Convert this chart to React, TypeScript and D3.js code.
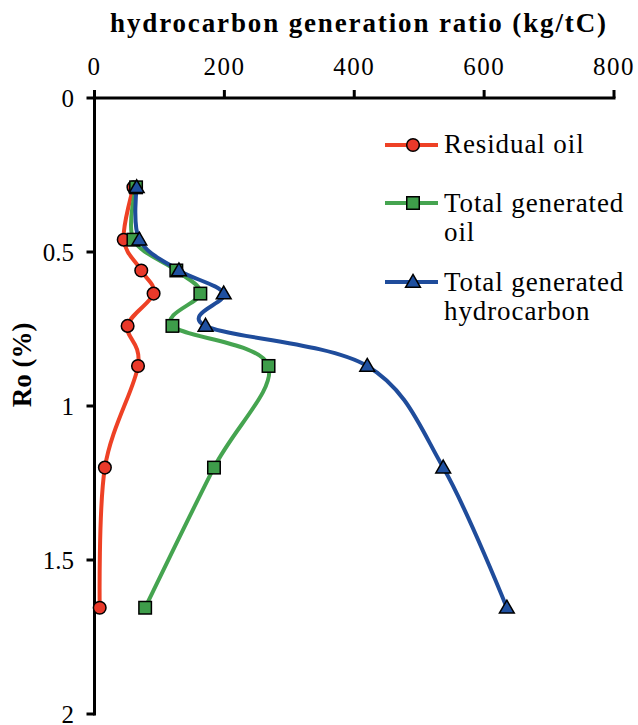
import React from "react";
import * as d3 from "d3";

const roValues = [0.29, 0.46, 0.56, 0.635, 0.74, 0.87, 1.2, 1.655];
const residualOil = [60, 45, 72, 91, 51, 67, 16, 8];
const totalGeneratedOil = [64, 60, 126, 163, 120, 268, 184, 78];
const totalGeneratedHC = [65, 69, 130, 199, 171, 420, 537, 635];

const xTicks = [0, 200, 400, 600, 800];
const yTicks = [0, 0.5, 1, 1.5, 2];
const yTickLabels = ["0", "0.5", "1", "1.5", "2"];

const titleText = "hydrocarbon generation ratio (kg/tC)";
const yAxisTitle = "Ro (%)";

const series = [
  { name: ["Residual oil"], values: residualOil, line: "#EE4125", fill: "#E9392A", marker: "circle" },
  { name: ["Total generated", "oil"], values: totalGeneratedOil, line: "#45A450", fill: "#3E9D4A", marker: "square" },
  { name: ["Total generated", "hydrocarbon"], values: totalGeneratedHC, line: "#1F4C9B", fill: "#1F50A0", marker: "triangle" },
];

const W = 638;
const H = 725;
const X0 = 94.5;
const X1 = 614;
const Y0 = 98;
const Y1 = 714;

const font = "Liberation Serif, Tinos, Times New Roman, DejaVu Serif, serif";

function Marker({ type, x, y, fill }: { type: string; x: number; y: number; fill: string }) {
  if (type === "circle") {
    return <circle cx={x} cy={y} r={6.3} fill={fill} stroke="#000" strokeWidth={1.5} />;
  }
  if (type === "square") {
    const s = 12.5;
    return <rect x={x - s / 2} y={y - s / 2} width={s} height={s} fill={fill} stroke="#000" strokeWidth={1.5} />;
  }
  const tri = d3.symbol(d3.symbolTriangle, 95)();
  return <path d={tri || ""} transform={`translate(${x},${y + 1})`} fill={fill} stroke="#000" strokeWidth={1.5} />;
}

export default function App() {
  const x = d3.scaleLinear().domain([0, 800]).range([X0, X1]);
  const y = d3.scaleLinear().domain([0, 2]).range([Y0, Y1]);
  const line = d3
    .line<[number, number]>()
    .x((d) => x(d[0]))
    .y((d) => y(d[1]))
    .curve(d3.curveCardinal.tension(0));

  const legendX0 = 385;
  const legendX1 = 438;
  const legendMX = 413;
  const legendRows = [
    { ly: 145, ty: [153] },
    { ly: 203, ty: [212, 241] },
    { ly: 282, ty: [291, 320] },
  ];

  return (
    <svg
      width={W}
      height={H}
      style={{ position: "absolute", left: 0, top: 0, background: "#fff", fontFamily: font }}
    >
      <rect x={0} y={0} width={W} height={H} fill="#fff" />
      <text
        x={110}
        y={32}
        fontSize={27}
        fontWeight="bold"
        textLength={496}
        lengthAdjust="spacing"
        fill="#000"
        style={{ fontFamily: font }}
      >
        {titleText}
      </text>
      <text
        transform={`translate(31, 365) rotate(-90)`}
        textAnchor="middle"
        fontSize={27}
        fontWeight="bold"
        fill="#000"
        style={{ fontFamily: font }}
      >
        {yAxisTitle}
      </text>

      <line x1={X0} x2={X1 + 1.5} y1={Y0} y2={Y0} stroke="#000" strokeWidth={3} />
      {xTicks.map((t) => (
        <g key={"xt" + t}>
          <line x1={x(t)} x2={x(t)} y1={Y0} y2={Y0 - 8} stroke="#000" strokeWidth={3} />
          <text x={x(t)} y={75} textAnchor="middle" fontSize={25} letterSpacing={1.5} fill="#000" style={{ fontFamily: font }}>
            {String(t)}
          </text>
        </g>
      ))}

      <line x1={X0} x2={X0} y1={Y0 - 8} y2={Y1 + 1.5} stroke="#000" strokeWidth={3} />
      {yTicks.map((t, i) => (
        <g key={"yt" + t}>
          <line x1={X0 - 8} x2={X0} y1={y(t)} y2={y(t)} stroke="#000" strokeWidth={3} />
          <text x={74} y={Math.min(y(t) + 9, 724)} textAnchor="end" fontSize={25} fill="#000" style={{ fontFamily: font }}>
            {yTickLabels[i]}
          </text>
        </g>
      ))}

      {series.map((s) => {
        const pts: [number, number][] = s.values.map((v, i) => [v, roValues[i]]);
        return (
          <path key={"l" + s.marker} d={line(pts) || ""} fill="none" stroke={s.line} strokeWidth={4} />
        );
      })}
      {series.map((s) => (
        <g key={"m" + s.marker}>
          {s.values.map((v, i) => (
            <Marker key={i} type={s.marker} x={x(v)} y={y(roValues[i])} fill={s.fill} />
          ))}
        </g>
      ))}

      {series.map((s, k) => (
        <g key={"lg" + k}>
          <line
            x1={legendX0}
            x2={legendX1}
            y1={legendRows[k].ly}
            y2={legendRows[k].ly}
            stroke={s.line}
            strokeWidth={4}
          />
          <Marker type={s.marker} x={legendMX} y={legendRows[k].ly} fill={s.fill} />
          {s.name.map((n, j) => (
            <text
              key={j}
              x={444}
              y={legendRows[k].ty[j]}
              fontSize={27}
              letterSpacing={0.9}
              fill="#000"
              style={{ fontFamily: font }}
            >
              {n}
            </text>
          ))}
        </g>
      ))}
    </svg>
  );
}
